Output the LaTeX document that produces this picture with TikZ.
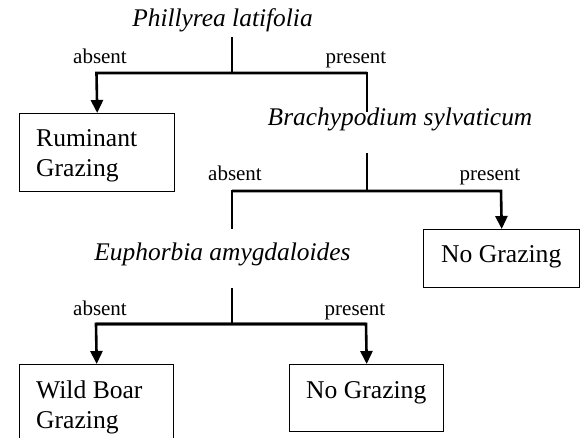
\documentclass[tikz,border=0pt]{standalone}
\usepackage{fontspec}
\setmainfont{Liberation Serif}
\usetikzlibrary{arrows.meta}
\begin{document}
\begin{tikzpicture}[x=1pt,y=-1pt,
  conn/.style={line width=2.6pt},
  arr/.style={conn,-{Triangle[width=12pt,length=13pt]}},
  boxr/.style={draw,line width=1.4pt,inner sep=0pt,anchor=north west},
  big/.style={font=\fontsize{25.6}{30}\selectfont,inner sep=0pt},
  species/.style={big,font=\fontsize{25.4}{30}\selectfont\itshape,anchor=base},
  btext/.style={big,anchor=base west},
  lab/.style={font=\fontsize{21}{25}\selectfont,inner sep=0pt,anchor=base}]
\useasboundingbox (0,0) rectangle (580,437);
\clip (0,0) rectangle (580,437);
% species
\node[species] (P) at (222.5,26) {Phillyrea latifolia};
\node[species] (B) at (400,125) {Brachypodium sylvaticum};
\node[species] (E) at (222.5,260) {Euphorbia amygdaloides};
% boxes
\node[boxr,minimum width=155pt,minimum height=78pt] (rum) at (19,113) {};
\node[boxr,minimum width=156pt,minimum height=58pt] (ng1) at (423,229) {};
\node[boxr,minimum width=154pt,minimum height=90pt] (wb) at (19,364) {};
\node[boxr,minimum width=154pt,minimum height=67pt] (ng2) at (289,364) {};
% box texts
\node[btext] (rumA) at (36,146) {Ruminant};
\node[btext] (rumB) at (36,176) {Grazing};
\node[btext] (ng1t) at (441,262) {No Grazing};
\node[btext] (wbA) at (36,398) {Wild Boar};
\node[btext] (wbB) at (36,428) {Grazing};
\node[btext] (ng2t) at (306,398) {No Grazing};
% labels
\node[lab] (l1a) at (100,63) {absent};
\node[lab] (l1p) at (356,63) {present};
\node[lab] (l2a) at (235,180) {absent};
\node[lab] (l2p) at (490,180) {present};
\node[lab] (l3a) at (100,315) {absent};
\node[lab] (l3p) at (355,315) {present};
% coordinates
\coordinate (s1) at (232,37);
\coordinate (j1) at (232,73);
\coordinate (j1l) at (96.5,73);
\coordinate (j1r) at (367,73);
\coordinate (b1) at (367,112);
\coordinate (s2) at (367,153);
\coordinate (j2) at (367,191);
\coordinate (j2l) at (232,191);
\coordinate (j2r) at (501,191);
\coordinate (e1) at (232,229);
\coordinate (s3) at (232,288);
\coordinate (j3) at (232,324);
\coordinate (j3l) at (96,324);
\coordinate (j3r) at (366,324);
% connectors
\draw[conn] (s1) -- (j1);
\draw[arr] (j1r) -- (j1l) -- (rum.north);
\draw[conn] (j1l) -- (j1r) -- (b1);
\draw[conn] (s2) -- (j2);
\draw[arr] (j2l) -- (j2r) -- (ng1.north);
\draw[conn] (j2r) -- (j2l) -- (e1);
\draw[conn] (s3) -- (j3);
\draw[arr] (j3r) -- (j3l) -- (wb.north);
\draw[arr] (j3l) -- (j3r) -- (ng2.north);
\end{tikzpicture}
\end{document}
